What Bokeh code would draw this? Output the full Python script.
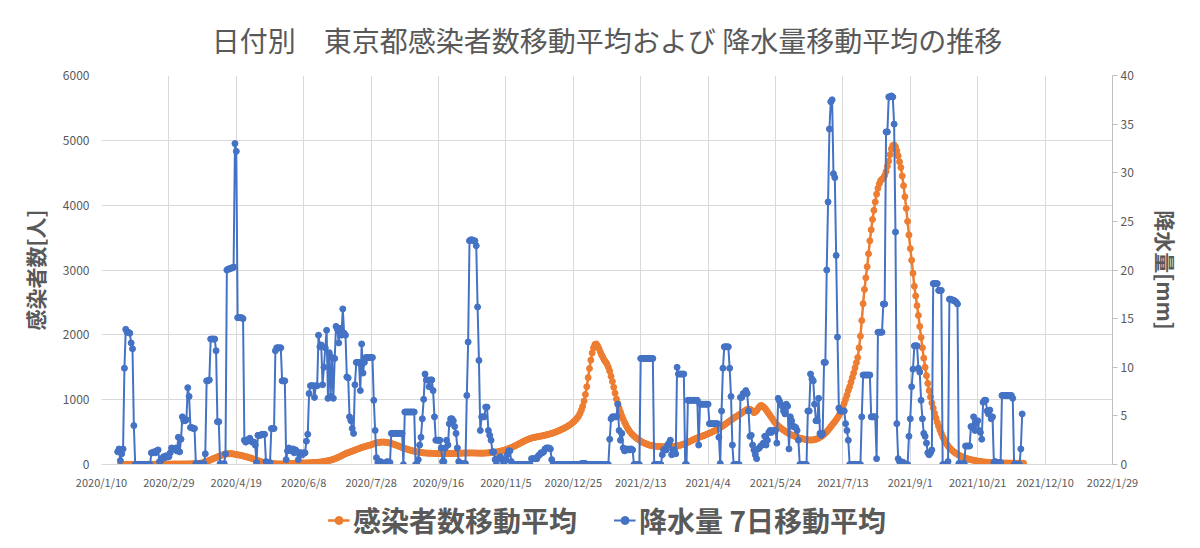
import numpy as np
import pandas as pd
from bokeh.plotting import figure
from bokeh.layouts import column
from bokeh.models import Range1d, LinearAxis, FixedTicker, Legend, LegendItem
from bokeh.embed import file_html
from bokeh.resources import INLINE

# ---------------- data ----------------
axis_origin = "2020-01-10"
tick_labels = ["2020/1/10", "2020/2/29", "2020/4/19", "2020/6/8", "2020/7/28", "2020/9/16",
               "2020/11/5", "2020/12/25", "2021/2/13", "2021/4/4", "2021/5/24", "2021/7/13",
               "2021/9/1", "2021/10/21", "2021/12/10", "2022/1/29"]

cases_start = "2020-01-24"
cases = [
    0, 0, 0, 0, 1, 1, 1, 1, 1, 1,
    1, 1, 1, 1, 1, 1, 1, 2, 2, 2,
    2, 3, 3, 3, 4, 4, 4, 4, 5, 5,
    5, 5, 5, 5, 5, 6, 6, 6, 7, 7,
    7, 7, 7, 7, 7, 7, 8, 8, 8, 8,
    8, 9, 9, 10, 10, 11, 12, 14, 16, 18,
    22, 27, 33, 40, 47, 55, 63, 72, 82, 91,
    100, 108, 117, 125, 133, 141, 148, 155, 160, 164,
    166, 167, 167, 165, 162, 158, 154, 150, 146, 142,
    138, 133, 127, 121, 115, 110, 104, 97, 90, 83,
    75, 68, 60, 52, 45, 38, 32, 27, 23, 20,
    17, 15, 13, 12, 11, 10, 9, 8, 8, 8,
    8, 9, 9, 10, 11, 12, 13, 14, 15, 16,
    17, 18, 19, 20, 21, 22, 22, 23, 24, 25,
    26, 27, 28, 29, 30, 31, 33, 35, 37, 40,
    43, 46, 50, 54, 58, 62, 67, 73, 80, 88,
    96, 105, 114, 124, 134, 145, 156, 166, 175, 183,
    190, 198, 206, 214, 222, 230, 238, 246, 254, 262,
    268, 274, 280, 286, 292, 298, 305, 312, 319, 326,
    332, 337, 341, 344, 346, 346, 345, 343, 340, 336,
    331, 325, 318, 311, 303, 295, 287, 279, 271, 263,
    255, 248, 241, 234, 227, 221, 215, 210, 205, 200,
    196, 192, 188, 185, 182, 180, 178, 176, 175, 174,
    173, 172, 171, 170, 170, 169, 169, 168, 168, 168,
    168, 168, 168, 168, 168, 169, 169, 170, 170, 171,
    172, 173, 174, 175, 176, 176, 177, 177, 178, 178,
    178, 178, 177, 177, 176, 176, 175, 175, 175, 175,
    176, 177, 178, 180, 182, 184, 186, 188, 190, 193,
    196, 200, 205, 210, 216, 222, 229, 236, 244, 252,
    261, 270, 280, 290, 300, 311, 322, 333, 344, 355,
    365, 375, 384, 392, 400, 407, 413, 418, 422, 426,
    430, 434, 438, 442, 447, 452, 457, 462, 468, 474,
    480, 487, 494, 502, 510, 519, 528, 538, 548, 558,
    568, 580, 592, 605, 620, 636, 654, 674, 696, 720,
    750, 790, 840, 900, 980, 1080, 1200, 1340, 1480, 1610,
    1720, 1800, 1850, 1860, 1830, 1790, 1740, 1690, 1650, 1610,
    1580, 1550, 1500, 1440, 1360, 1280, 1190, 1100, 1010, 940,
    870, 810, 750, 700, 650, 610, 570, 535, 505, 480,
    460, 440, 420, 405, 390, 375, 360, 348, 337, 327,
    318, 310, 303, 297, 292, 288, 285, 282, 280, 278,
    276, 275, 274, 273, 272, 271, 271, 271, 272, 273,
    275, 278, 281, 285, 290, 295, 301, 308, 316, 324,
    333, 342, 352, 362, 372, 382, 392, 401, 410, 418,
    425, 432, 440, 448, 456, 465, 474, 483, 492, 502,
    512, 522, 533, 545, 557, 570, 583, 597, 611, 625,
    640, 655, 670, 685, 700, 714, 728, 742, 756, 768,
    780, 795, 810, 825, 838, 850, 855, 850, 840, 825,
    800, 810, 830, 860, 890, 910, 905, 890, 870, 845,
    815, 785, 755, 725, 695, 665, 640, 615, 595, 575,
    560, 545, 530, 515, 500, 488, 476, 465, 455, 446,
    438, 430, 422, 415, 408, 402, 397, 392, 388, 384,
    380, 378, 377, 378, 380, 384, 390, 398, 408, 420,
    433, 448, 465, 485, 507, 530, 555, 582, 610, 635,
    660, 690, 720, 755, 795, 840, 890, 945, 1005, 1070,
    1140, 1200, 1270, 1340, 1410, 1490, 1570, 1650, 1800, 1980,
    2220, 2480, 2700, 2880, 3050, 3250, 3450, 3620, 3780, 3920,
    4050, 4170, 4260, 4330, 4380, 4400, 4420, 4460, 4520, 4600,
    4680, 4780, 4870, 4920, 4930, 4900, 4840, 4760, 4670, 4580,
    4450, 4300, 4130, 3950, 3750, 3540, 3330, 3150, 2950, 2750,
    2600, 2450, 2300, 2130, 1960, 1800, 1640, 1500, 1370, 1250,
    1140, 1040, 950, 870, 790, 720, 650, 590, 530, 480,
    430, 390, 350, 315, 285, 260, 238, 218, 200, 184,
    170, 157, 145, 134, 124, 115, 106, 98, 91, 85,
    79, 74, 69, 64, 60, 56, 52, 49, 46, 43,
    40, 38, 36, 34, 32, 30, 29, 28, 27, 26,
    25, 24, 24, 23, 23, 22, 22, 22, 21, 21,
    21, 21, 20, 20, 20, 20, 20, 20, 20, 20, 20,
]

rain_start = "2020-01-22"
rain = [
    1.3, 1.6, 0.4, 1.1, 1.6, 9.9, 13.9, 13.6, 13.6, 13.5,
    12.5, 11.9, 4.0, 0, 0, 0, 0, 0, 0, 0,
    0, 0, 0, 0, 0, 1.2, 1.2, 1.3, 1.2, 1.4,
    1.5, 0.3, 0.4, 0.6, 0.8, 0.7, 0.9, 0.8, 0.8, 1.2,
    1.7, 1.6, 1.6, 1.7, 1.4, 2.8, 1.3, 2.6, 4.9, 4.5,
    4.5, 4.6, 7.9, 7.0, 3.8, 3.8, 3.7, 3.7, 0.1, 0,
    0, 0.1, 0, 0, 0.1, 1.1, 8.6, 8.6, 8.7, 12.9,
    12.9, 12.9, 12.9, 11.7, 4.4, 4.4, 0.1, 0, 0, 0.1,
    1.1, 20.0, 20.1, 20.1, 20.2, 20.2, 20.3, 33.0, 32.2, 15.1,
    15.1, 15.1, 15.1, 15.0, 2.5, 2.3, 2.4, 2.6, 2.7, 2.4,
    2.3, 2.3, 2.0, 0.2, 3.0, 3.0, 3.0, 3.1, 3.1, 3.1,
    0.3, 0.2, 0.2, 0.2, 3.7, 3.7, 3.7, 11.7, 12.0, 12.0,
    12.0, 12.0, 8.6, 8.6, 8.6, 0.5, 1.4, 1.7, 1.5, 1.4,
    1.6, 1.2, 1.5, 1.3, 0.5, 1.2, 1.2, 1.0, 1.2, 1.2,
    2.4, 3.1, 7.3, 8.1, 8.1, 8.1, 6.9, 8.1, 8.1, 13.3,
    12.1, 12.3, 8.2, 10.0, 12.0, 13.8, 6.8, 11.5, 7.0, 11.0,
    6.8, 10.9, 14.2, 13.9, 12.5, 14.0, 13.3, 16.0, 13.5, 13.3,
    9.0, 8.9, 4.9, 4.5, 3.7, 3.2, 8.2, 10.5, 10.5, 10.5,
    7.6, 12.4, 9.4, 10.5, 11.0, 11.0, 11.0, 11.0, 11.0, 11.0,
    6.6, 3.5, 0.7, 0.2, 0.1, 0.3, 0.2, 0, 0.1, 0.2,
    0.3, 0.1, 0.2, 3.2, 3.2, 3.2, 3.2, 3.2, 3.2, 3.2,
    3.2, 3.2, 0, 5.4, 5.4, 5.4, 5.4, 5.4, 5.4, 5.4,
    5.4, 0, 0, 0.5, 2.0, 2.8, 4.7, 6.7, 9.3, 8.7,
    8.7, 8.0, 8.7, 8.7, 7.6, 4.9, 2.5, 2.5, 2.5, 2.5,
    1.7, 0.3, 0.3, 1.7, 2.5, 2.0, 4.2, 4.7, 4.7, 4.5,
    3.9, 3.2, 1.7, 0.3, 0.1, 0.1, 0, 0.1, 0.1, 7.1,
    12.6, 23.0, 23.1, 23.1, 23.0, 23.0, 22.5, 16.2, 10.7, 3.5,
    4.9, 4.9, 4.9, 5.9, 5.9, 3.5, 3.0, 2.5, 1.3, 1.3,
    0.5, 0, 0.6, 0.6, 0.8, 0.5, 0.3, 0.3, 0.5, 1.0,
    1.4, 1.4, 0.3, 0, 0, 0, 0, 0, 0, 0,
    0, 0, 0, 0, 0, 0, 0, 0.6, 0.6, 0.6,
    0.6, 0.6, 0.9, 1.0, 1.2, 1.2, 1.3, 1.6, 1.7, 1.7,
    1.7, 1.6, 0.5, 0, 0, 0, 0, 0, 0, 0,
    0, 0, 0, 0, 0, 0, 0, 0, 0, 0,
    0, 0, 0, 0, 0.1, 0.1, 0.1, 0.1, 0, 0,
    0, 0, 0, 0, 0, 0, 0, 0, 0, 0,
    0, 0, 0, 0, 0, 2.6, 4.7, 4.9, 4.9, 4.9,
    4.9, 6.2, 3.5, 2.5, 3.2, 1.7, 1.4, 1.6, 1.5, 1.6,
    1.5, 1.6, 1.5, 0, 0, 0, 0, 0, 10.9, 10.9,
    10.9, 10.9, 10.9, 10.9, 10.9, 10.9, 10.9, 10.9, 0, 0,
    0, 0, 0, 0, 1.0, 1.5, 1.6, 1.5, 2.0, 2.2,
    2.5, 1.0, 1.5, 1.5, 1.1, 10.0, 9.3, 9.3, 9.3, 9.3,
    9.3, 0, 0, 6.6, 6.6, 6.6, 6.6, 6.6, 6.6, 6.6,
    6.6, 2.0, 6.2, 6.2, 6.2, 6.2, 6.2, 6.2, 6.2, 4.2,
    4.2, 4.2, 4.2, 4.2, 4.2, 4.2, 2.8, 0.1, 5.5, 9.9,
    12.1, 12.1, 12.1, 12.1, 9.9, 7.0, 2.0, 0, 0, 0,
    0, 0, 6.9, 6.9, 7.3, 7.3, 7.6, 7.3, 5.5, 2.9,
    3.0, 2.0, 1.5, 1.0, 0.6, 1.6, 1.7, 1.9, 2.0, 2.2,
    2.9, 2.0, 2.5, 3.3, 3.5, 3.3, 3.5, 3.5, 3.5, 2.2,
    6.8, 6.5, 6.2, 6.0, 5.5, 5.2, 6.2, 6.0, 1.6, 4.9,
    4.5, 3.9, 3.9, 3.8, 3.5, 2.5, 0, 0, 0, 0,
    0, 0, 5.5, 5.5, 9.3, 8.8, 8.6, 6.2, 4.5, 4.5,
    6.8, 3.2, 3.0, 3.2, 10.5, 10.5, 20.0, 27.0, 34.5, 37.3,
    37.5, 29.9, 29.5, 21.5, 13.1, 5.8, 5.5, 5.5, 5.5, 5.5,
    4.2, 3.5, 2.5, 0, 0, 0, 0, 0, 0, 0,
    0, 0, 4.9, 9.2, 9.2, 9.2, 9.2, 9.2, 9.2, 4.9,
    4.9, 4.9, 4.9, 0.6, 13.6, 13.6, 13.6, 13.6, 16.5, 16.5,
    34.2, 34.2, 37.8, 37.8, 37.9, 37.8, 35.0, 23.9, 4.2, 0.6,
    0.3, 0.3, 0.2, 0.2, 0, 0, 0, 2.9, 4.7, 8.0,
    9.8, 12.2, 12.2, 12.2, 9.9, 9.5, 6.6, 4.7, 3.2, 2.9,
    2.2, 1.2, 1.0, 1.2, 1.5, 18.6, 18.6, 18.6, 18.6, 17.9,
    17.9, 17.9, 0, 0, 0, 0, 0.3, 17.0, 17.0, 16.9,
    16.9, 16.8, 16.7, 16.5, 0.1, 0.1, 0, 0.1, 0.1, 1.9,
    1.9, 1.9, 1.9, 3.9, 3.8, 4.9, 3.5, 4.2, 4.5, 3.5,
    3.3, 2.6, 6.4, 6.6, 6.6, 5.5, 5.2, 5.6, 4.7, 4.9,
    0.2, 0.3, 0.2, 0.2, 0.2, 0.2, 7.1, 7.1, 7.1, 7.1,
    7.1, 7.1, 7.1, 7.1, 6.8, 0, 0, 0, 0, 0,
    1.6, 5.2,
]

# ---------------- build ----------------
origin = pd.Timestamp(axis_origin)
cases_x = list((pd.date_range(cases_start, periods=len(cases), freq="D") - origin).days)
rain_x = list((pd.date_range(rain_start, periods=len(rain), freq="D") - origin).days)
tick_pos = [int((pd.Timestamp(s.replace("/", "-")) - origin).days) for s in tick_labels]

ORANGE = "#ED7D31"
BLUE = "#4472C4"
GRAY_TXT = "#595959"
GRID = "#D9D9D9"
JP = "Noto Sans CJK JP"

p = figure(width=1200, height=500, output_backend="svg", toolbar_location=None,
           x_range=Range1d(0, tick_pos[-1]), y_range=Range1d(0, 6000),
           min_border_left=101, min_border_right=88, min_border_top=75, min_border_bottom=36,
           background_fill_color="white", border_fill_color="white")
p.outline_line_color = None
p.extra_y_ranges = {"rain": Range1d(0, 40)}

# title
p.title.text = "日付別　東京都感染者数移動平均および 降水量移動平均の推移"
p.title.align = "center"
p.title.text_font = JP
p.title.text_font_size = "28px"
p.title.text_font_style = "normal"
p.title.text_color = GRAY_TXT
p.title.standoff = 32

# x axis
xa = p.xaxis[0]
xa.ticker = FixedTicker(ticks=tick_pos)
xa.major_label_overrides = {t: lab for t, lab in zip(tick_pos, tick_labels)}
xa.axis_line_color = GRID
xa.major_tick_line_color = None
xa.major_tick_out = 0
xa.minor_tick_line_color = None
xa.major_label_text_font = JP
xa.major_label_text_font_size = "11px"
xa.major_label_text_color = GRAY_TXT
xa.major_label_standoff = 9

# left axis
ya = p.yaxis[0]
ya.ticker = FixedTicker(ticks=[0, 1000, 2000, 3000, 4000, 5000, 6000])
ya.axis_line_color = None
ya.major_tick_line_color = None
ya.major_tick_out = 0
ya.minor_tick_line_color = None
ya.major_label_text_font = JP
ya.major_label_text_font_size = "12px"
ya.major_label_text_color = GRAY_TXT
ya.major_label_standoff = 12
ya.axis_label = "感染者数[人]"
ya.axis_label_text_font = JP
ya.axis_label_text_font_size = "21px"
ya.axis_label_text_font_style = "bold"
ya.axis_label_text_color = GRAY_TXT
ya.axis_label_standoff = 10

# right axis
ra = LinearAxis(y_range_name="rain", ticker=FixedTicker(ticks=[0, 5, 10, 15, 20, 25, 30, 35, 40]))
ra.axis_line_color = "#BFBFBF"
ra.major_tick_line_color = "#BFBFBF"
ra.major_tick_out = 5
ra.major_tick_in = 0
ra.minor_tick_line_color = None
ra.major_label_text_font = JP
ra.major_label_text_font_size = "12px"
ra.major_label_text_color = GRAY_TXT
ra.major_label_standoff = 3
ra.axis_label = "降水量[mm]"
ra.axis_label_text_font = JP
ra.axis_label_text_font_size = "21px"
ra.axis_label_text_font_style = "bold"
ra.axis_label_text_color = GRAY_TXT
ra.axis_label_standoff = 14
p.add_layout(ra, "right")

p.xgrid.ticker = FixedTicker(ticks=tick_pos)
p.xgrid.grid_line_color = GRID
p.ygrid.ticker = FixedTicker(ticks=[0, 1000, 2000, 3000, 4000, 5000, 6000])
p.ygrid.grid_line_color = GRID

# series
p.line(cases_x, cases, line_color=ORANGE, line_width=2.5)
p.scatter(cases_x, cases, size=6, fill_color=ORANGE, line_color=ORANGE)
p.line(rain_x, rain, line_color=BLUE, line_width=2, y_range_name="rain")
p.scatter(rain_x, rain, size=6, fill_color=BLUE, line_color=BLUE, y_range_name="rain")

# legend strip below the chart (same series, drawn outside its own view so only the legend shows)
lg = figure(width=1200, height=48, output_backend="svg", toolbar_location=None,
            x_range=Range1d(-20, -10), y_range=Range1d(-20, -10),
            x_axis_type=None, y_axis_type=None,
            min_border_left=0, min_border_right=14, min_border_top=0, min_border_bottom=0,
            background_fill_color="white", border_fill_color="white")
lg.outline_line_color = None
cl = lg.line(cases_x, cases, line_color=ORANGE, line_width=2.5)
cs = lg.scatter(cases_x, cases, size=6, fill_color=ORANGE, line_color=ORANGE)
rl = lg.line(rain_x, rain, line_color=BLUE, line_width=2)
rs = lg.scatter(rain_x, rain, size=6, fill_color=BLUE, line_color=BLUE)

legend = Legend(items=[LegendItem(label="感染者数移動平均", renderers=[cl, cs]),
                       LegendItem(label="降水量 7日移動平均", renderers=[rl, rs])],
                orientation="horizontal", location="top_center")
legend.label_text_font = JP
legend.label_text_font_size = "28px"
legend.label_text_font_style = "bold"
legend.label_text_color = GRAY_TXT
legend.border_line_color = None
legend.background_fill_alpha = 0
legend.glyph_width = 22
legend.spacing = 36
legend.label_standoff = 4
legend.padding = 0
legend.margin = 0
lg.add_layout(legend)

layout = column(p, lg, spacing=0)
open("out.html", "w").write(file_html(layout, INLINE))
